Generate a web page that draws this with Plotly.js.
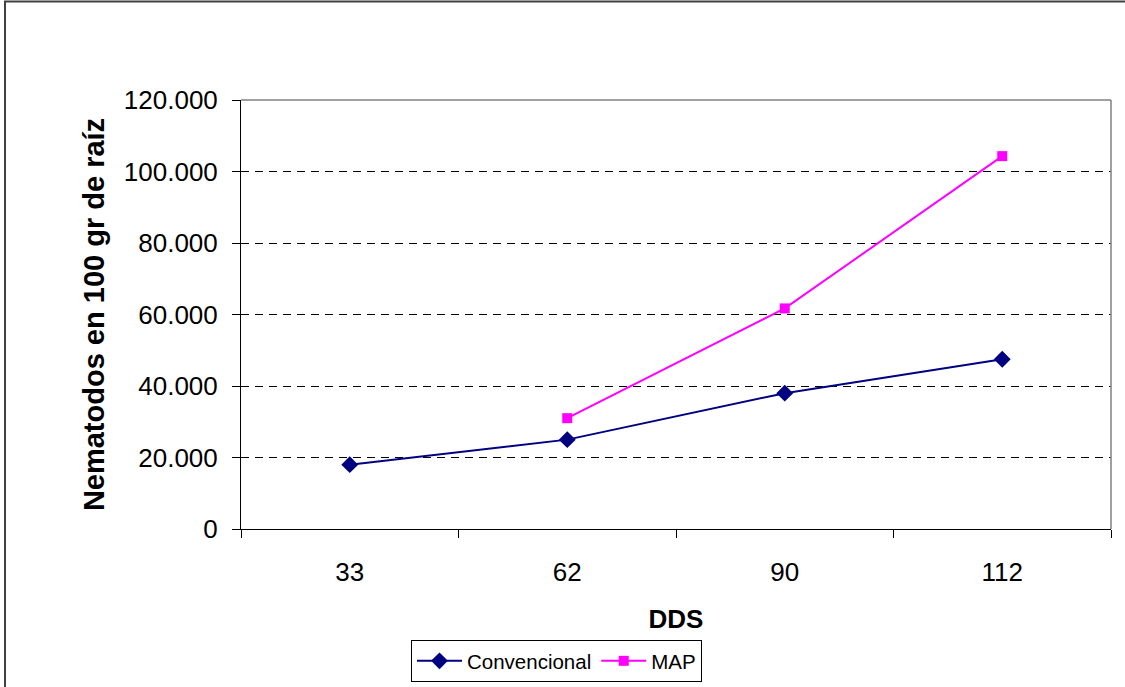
<!DOCTYPE html>
<html>
<head>
<meta charset="utf-8">
<script src="https://cdn.plot.ly/plotly-3.0.1.min.js"></script>
<style>
html,body{margin:0;padding:0;background:#fff;overflow:hidden;}
#chart{width:1125px;height:687px;}
</style>
</head>
<body>
<div id="chart"></div>
<script>
const categories = ["33", "62", "90", "112"];
const convencional = [18000, 25000, 38000, 47500];
const mapValues = [null, 31000, 61700, 104300];
const seriesNames = ["Convencional", "MAP"];
const yTicks = [0, 20000, 40000, 60000, 80000, 100000, 120000];

const L = 241, R = 1111, T = 100, B = 529, W = 1125, H = 687;
const pw = R - L, ph = B - T;
const px = x => (x - L) / pw;
const py = y => (B - y) / ph;

const traces = [
  {
    x: categories, y: convencional, name: seriesNames[0],
    type: "scatter", mode: "lines+markers",
    line: {color: "#000080", width: 2},
    marker: {symbol: "diamond", size: 13, color: "#000080"}
  },
  {
    x: categories, y: mapValues, name: seriesNames[1],
    type: "scatter", mode: "lines+markers", connectgaps: false,
    line: {color: "#FF00FF", width: 2},
    marker: {symbol: "square", size: 10, color: "#FF00FF"}
  }
];

const layout = {
  width: W, height: H,
  margin: {l: L, r: W - R, t: T, b: H - B, pad: 0},
  paper_bgcolor: "#fff", plot_bgcolor: "#fff",
  separators: ",.",
  font: {family: "Liberation Sans, Arial, sans-serif", color: "#000"},
  showlegend: true,
  legend: {
    orientation: "h",
    xref: "container", yref: "container",
    x: 411 / W, y: 1 - 640 / H, xanchor: "left", yanchor: "top",
    bordercolor: "#000", borderwidth: 1, bgcolor: "#fff",
    font: {size: 20.5, color: "#000"},
    itemwidth: 45, tracegroupgap: 0
  },
  xaxis: {
    type: "category", range: [-0.5, 3.5],
    tickson: "boundaries", ticks: "outside", ticklen: 8, tickcolor: "#000",
    showline: true, linecolor: "#000", linewidth: 1,
    showgrid: false, zeroline: false,
    tickfont: {size: 26, color: "#000"},
    ticklabelstandoff: 20,
    title: {text: "<b>DDS</b>", font: {size: 26, color: "#000"}, standoff: 23}
  },
  yaxis: {
    range: [0, 120000], tickvals: yTicks, tickformat: ",d",
    ticks: "outside", ticklen: 8, tickcolor: "#000",
    showline: true, linecolor: "#000", linewidth: 1,
    showgrid: true, gridcolor: "#000", gridwidth: 1, griddash: "8px,6px",
    zeroline: false,
    tickfont: {size: 26, color: "#000"},
    ticklabelstandoff: 9,
    title: {text: "<b>Nematodos en 100 gr de raíz</b>", font: {size: 29, color: "#000"}, standoff: 10}
  },
  shapes: [
    {type: "line", xref: "paper", yref: "paper", x0: 0, x1: 1, y0: 1, y1: 1, line: {color: "#808080", width: 1.5}},
    {type: "line", xref: "paper", yref: "paper", x0: 1, x1: 1, y0: 0, y1: 1, line: {color: "#808080", width: 1.5}},
    {type: "rect", xref: "paper", yref: "paper", x0: px(5), x1: px(1140), y0: py(1.5), y1: py(720), line: {color: "#404040", width: 2}}
  ]
};

Plotly.newPlot("chart", traces, layout, {displayModeBar: false, staticPlot: true});
</script>
</body>
</html>
